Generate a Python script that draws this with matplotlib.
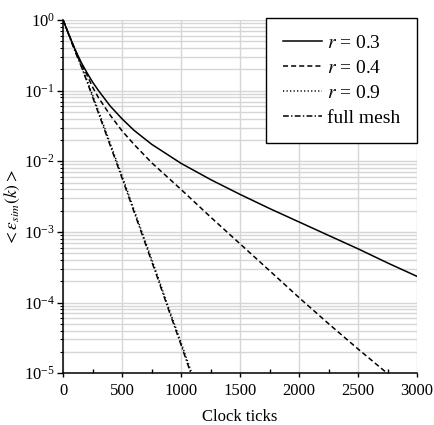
import numpy as np
import matplotlib
matplotlib.use('Agg')
import matplotlib.pyplot as plt
from matplotlib.ticker import LogLocator, MultipleLocator, NullFormatter

plt.rcParams['font.family'] = ['Liberation Serif', 'DejaVu Serif']
plt.rcParams['mathtext.fontset'] = 'stix'

# mean error vs clock ticks for each topology
k_r03 = [0, 50, 100, 150, 200, 250, 300, 400, 500, 600, 750, 1000, 1250, 1500,
         1750, 2000, 2250, 2500, 2750, 3000]
e_r03 = [1.0, 0.617, 0.389, 0.257, 0.182, 0.132, 0.100, 0.0603, 0.0398, 0.0275,
         0.0174, 0.00933, 0.0055, 0.00339, 0.00214, 0.00138, 8.9e-4, 5.75e-4,
         3.63e-4, 2.34e-4]

k_r04 = [0, 50, 100, 150, 200, 250, 300, 400, 500, 600, 750, 1000, 1250, 1500,
         1750, 2000, 2250, 2500, 2745]
e_r04 = [1.0, 0.617, 0.38, 0.251, 0.17, 0.112, 0.0794, 0.0447, 0.0269, 0.0174,
         0.00955, 0.00398, 0.00162, 6.76e-4, 2.82e-4, 1.17e-4, 5.0e-5, 2.19e-5,
         1.0e-5]

k_r09 = [0, 50, 100, 150, 200, 300, 400, 500, 600, 700, 800, 900, 1000, 1090]
e_r09 = [1.0, 0.617, 0.38, 0.234, 0.145, 0.0513, 0.0178, 0.00617, 0.00209,
         7.1e-4, 2.4e-4, 7.9e-5, 2.7e-5, 1.0e-5]

k_full = [0, 50, 100, 150, 200, 250, 300, 400, 500, 600, 700, 800, 900, 1000, 1082]
e_full = [1.0, 0.603, 0.363, 0.229, 0.138, 0.0813, 0.0479, 0.0166, 0.00575,
          0.00195, 6.6e-4, 2.24e-4, 7.4e-5, 2.5e-5, 1.0e-5]

fig = plt.figure(figsize=(4.35, 4.25), dpi=100)
ax = fig.add_axes([0.145, 0.122, 0.814, 0.831])

ax.plot(k_r03, e_r03, color='black', lw=1.1, ls='-', label='$r$ = 0.3')
ax.plot(k_r04, e_r04, color='black', lw=1.1, ls=(0, (3.3, 2.0)), label='$r$ = 0.4')
ax.plot(k_r09, e_r09, color='black', lw=1.1, ls=(0, (0.8, 1.5)), label='$r$ = 0.9')
ax.plot(k_full, e_full, color='black', lw=1.1, ls=(0, (3.8, 1.5, 0.9, 1.5)),
        label='full mesh')

ax.set_yscale('log')
ax.set_xlim(0, 3000)
ax.set_ylim(1e-5, 1)

ax.xaxis.set_major_locator(MultipleLocator(500))
ax.xaxis.set_minor_locator(MultipleLocator(250))
ax.yaxis.set_major_locator(LogLocator(base=10))
ax.yaxis.set_minor_locator(LogLocator(base=10, subs=np.arange(2, 10)))
ax.yaxis.set_minor_formatter(NullFormatter())

ax.grid(which='major', axis='x', color='#d6d6d6', lw=1.0)
ax.grid(which='both', axis='y', color='#d6d6d6', lw=1.0)
ax.set_axisbelow(True)

for side in ['top', 'right']:
    ax.spines[side].set_visible(False)
for side in ['left', 'bottom']:
    ax.spines[side].set_linewidth(1.1)

ax.tick_params(axis='x', which='major', direction='out', length=3, width=1, pad=4,
               labelsize=12)
ax.tick_params(axis='x', which='minor', direction='in', length=3, width=1)
ax.tick_params(axis='y', which='major', direction='out', length=4, width=1, pad=2,
               labelsize=12)
ax.tick_params(axis='y', which='minor', direction='out', length=2.5, width=0.8)

ax.set_xlabel('Clock ticks', fontsize=12, labelpad=7)
ax.set_ylabel(r'$<\varepsilon_{sim}(k)>$', fontsize=12.5, labelpad=2)
ax.yaxis.set_label_coords(-0.115, 0.47)

leg = ax.legend(loc='upper right', bbox_to_anchor=(1.0, 1.007), borderaxespad=0,
                fontsize=14, handlelength=2.0, handletextpad=0.3,
                labelspacing=0.38, borderpad=0.85,
                fancybox=False, framealpha=1, edgecolor='black')
leg.get_frame().set_linewidth(1.0)

fig.savefig('out.png', dpi=100)
